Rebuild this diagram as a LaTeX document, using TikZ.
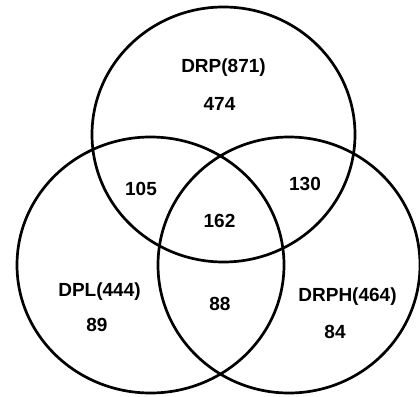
\documentclass[tikz,border=0pt]{standalone}
\usepackage{fontspec}
\setmainfont{Liberation Sans}
\begin{document}
\begin{tikzpicture}[x=1pt,y=-1pt,
  setline/.style={draw=black,line width=2.7pt},
  lbl/.style={font=\fontsize{19}{21}\selectfont\bfseries,inner sep=0pt,anchor=base}]
  \useasboundingbox (0,0) rectangle (420,396);
  \clip (0,0) rectangle (420,396);
  \fill[white] (0,0) rectangle (420,396);
  % the three sets
  \draw[setline] (223.5,134.5) ellipse [x radius=131.5, y radius=127.5];
  \draw[setline] (150.5,265) ellipse [x radius=133.5, y radius=128];
  \draw[setline] (289,265) ellipse [x radius=131, y radius=128];
  % set names and region counts
  \node[lbl] (drp)  at (223.5,72)  {DRP(871)};
  \node[lbl] (n474) at (219.5,110) {474};
  \node[lbl] (n105) at (141,195)   {105};
  \node[lbl] (n130) at (305,190)   {130};
  \node[lbl] (n162) at (219.5,227.5) {162};
  \node[lbl] (dpl)  at (99.5,296)  {DPL(444)};
  \node[lbl] (n89)  at (97,331)    {89};
  \node[lbl] (n88)  at (220,310)   {88};
  \node[lbl] (drph) at (347.5,301) {DRPH(464)};
  \node[lbl] (n84)  at (335,338)   {84};
\end{tikzpicture}
\end{document}
